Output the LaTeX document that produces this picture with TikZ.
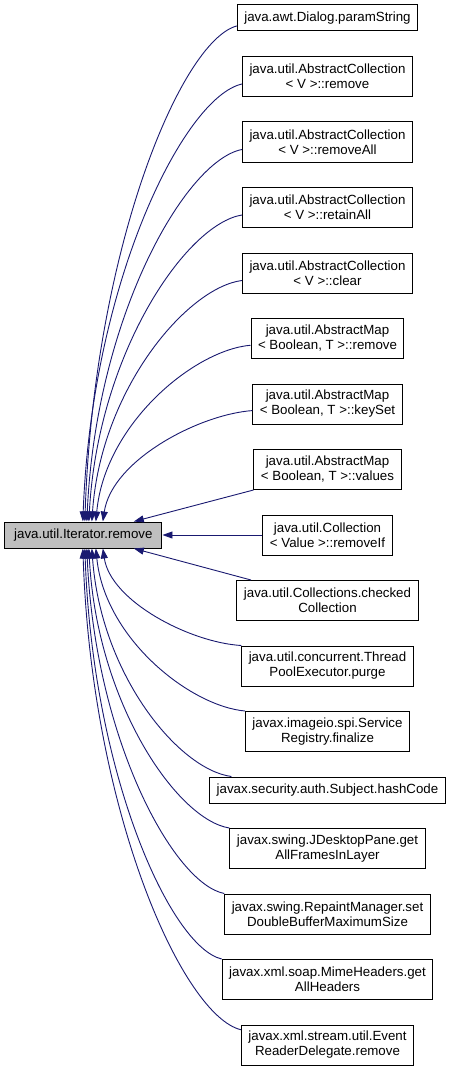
\documentclass[tikz,border=0pt]{standalone}
\usepackage{fontspec}
\setmainfont{Liberation Sans}
\usepackage{xcolor}
\usepackage{tikz}
\usetikzlibrary{arrows.meta,positioning}
\definecolor{edgeblue}{HTML}{191970}
\definecolor{focusgray}{HTML}{BFBFBF}
\tikzset{
  fn/.style={
    draw=black,fill=white,line width=1pt,
    minimum height=40pt,inner xsep=7pt,inner ysep=3pt,
    align=center,font=\fontsize{13.3}{15}\selectfont
  },
  fnone/.style={fn,minimum height=26pt},
  focus/.style={fnone,fill=focusgray,inner xsep=9.5pt},
  call/.style={-{Triangle[length=10pt,width=7pt]},draw=edgeblue,line width=.9pt}
}

\begin{document}
\begin{tikzpicture}[x=1pt,y=-1pt,node distance=24.5pt]
\useasboundingbox (0,0) rectangle (453,1070);

\node[fnone] (dlg) at (327.5,18) {java.awt.Dialog.paramString};
\node[fn,below=of dlg] (acrm) {java.util.AbstractCollection\\< V >::remove};
\node[fn,below=of acrm] (acrmall) {java.util.AbstractCollection\\< V >::removeAll};
\node[fn,below=of acrmall] (acret) {java.util.AbstractCollection\\< V >::retainAll};
\node[fn,below=of acret] (acclr) {java.util.AbstractCollection\\< V >::clear};
\node[fn,below=of acclr] (amrm) {java.util.AbstractMap\\< Boolean, T >::remove};
\node[fn,below=of amrm] (amkey) {java.util.AbstractMap\\< Boolean, T >::keySet};
\node[fn,below=of amkey] (amval) {java.util.AbstractMap\\< Boolean, T >::values};
\node[fn,below=of amval] (colrmif) {java.util.Collection\\< Value >::removeIf};
\node[fn,below=of colrmif] (colchk) {java.util.Collections.checked\\Collection};
\node[fn,below=of colchk] (tpepurge) {java.util.concurrent.Thread\\PoolExecutor.purge};
\node[fn,below=of tpepurge] (srfin) {javax.imageio.spi.Service\\Registry.finalize};
\node[fnone,below=of srfin] (subhash) {javax.security.auth.Subject.hashCode};
\node[fn,below=of subhash] (jdpget) {javax.swing.JDesktopPane.get\\AllFramesInLayer};
\node[fn,below=of jdpget] (rmset) {javax.swing.RepaintManager.set\\DoubleBufferMaximumSize};
\node[fn,below=of rmset] (mhget) {javax.xml.soap.MimeHeaders.get\\AllHeaders};
\node[fn,below=of mhget] (erdrm) {javax.xml.stream.util.Event\\ReaderDelegate.remove};

\node[focus,left=100pt of colrmif] (main) {java.util.Iterator.remove};

\draw[call] (dlg.185) .. controls +(-56,15) and +(9,-272) .. ([xshift=1.5pt]main.north);
\draw[call] (acrm.185) .. controls +(-58,13) and +(9,-240) .. ([xshift=-.5pt]main.north);
\draw[call] (acrmall.185) .. controls +(-57,11) and +(9,-204) .. ([xshift=3.5pt]main.north);
\draw[call] (acret.185) .. controls +(-56,9) and +(9,-168) .. ([xshift=5.5pt]main.north);
\draw[call] (acclr.185) .. controls +(-55,7) and +(9,-132) .. ([xshift=8.5pt]main.north);
\draw[call] (amrm.185) .. controls +(-57,5) and +(9,-97) .. ([xshift=12.5pt]main.north);
\draw[call] (amkey.185) .. controls +(-54,4) and +(9,-61) .. ([xshift=19.5pt]main.north);
\draw[call] (amval.south west) -- ([xshift=50.5pt]main.north);
\draw[call] (colrmif.west) -- (main.east);
\draw[call] (colchk.165) -- ([xshift=50.5pt]main.south);
\draw[call] (tpepurge.north west) .. controls +(-51,-3) and +(8,53) .. ([xshift=19.5pt]main.south);
\draw[call] (srfin.north west) .. controls +(-55,-5) and +(9,90) .. ([xshift=12.5pt]main.south);
\draw[call] (subhash.172) .. controls +(-53,-7) and +(9,126) .. ([xshift=8.5pt]main.south);
\draw[call] (jdpget.north west) .. controls +(-52,-8) and +(8,155) .. ([xshift=5.5pt]main.south);
\draw[call] (rmset.north west) .. controls +(-51,-10) and +(8,190) .. ([xshift=3.5pt]main.south);
\draw[call] (mhget.north west) .. controls +(-51,-12) and +(8,227) .. ([xshift=1.5pt]main.south);
\draw[call] (erdrm.170) .. controls +(-58,-14) and +(9,265) .. ([xshift=-.5pt]main.south);
\end{tikzpicture}
\end{document}
